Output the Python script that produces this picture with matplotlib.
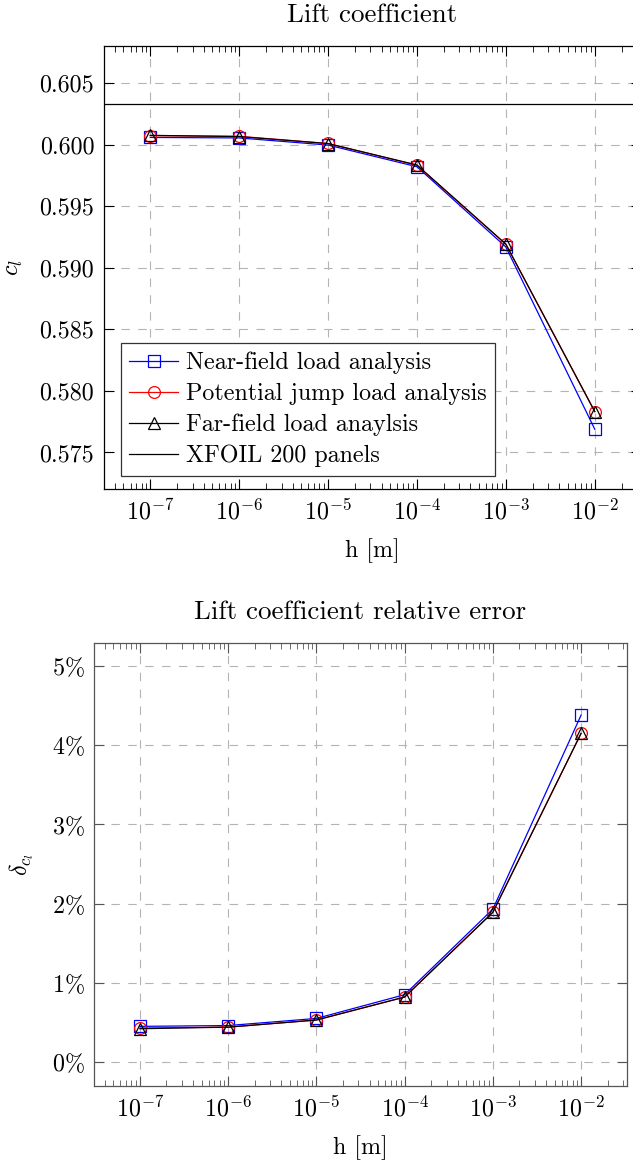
import matplotlib
matplotlib.use("Agg")
import matplotlib.pyplot as plt
from matplotlib.ticker import LogLocator, FixedLocator, FixedFormatter, NullFormatter

plt.rcParams['font.family'] = ['cmr10', 'DejaVu Serif']
plt.rcParams['mathtext.fontset'] = 'cm'
plt.rcParams['axes.formatter.use_mathtext'] = True
plt.rcParams['font.size'] = 17.3

# ---- data ----
h = [1e-7, 1e-6, 1e-5, 1e-4, 1e-3, 1e-2]
cl_near = [0.60060, 0.60056, 0.59998, 0.59822, 0.59170, 0.57689]
cl_jump = [0.60074, 0.60069, 0.60011, 0.59834, 0.59192, 0.57832]
cl_far = [0.60077, 0.60067, 0.60010, 0.59836, 0.59193, 0.57832]
cl_xfoil = 0.60332

err_near = [0.45, 0.46, 0.55, 0.85, 1.93, 4.38]
err_jump = [0.43, 0.44, 0.53, 0.82, 1.89, 4.15]
err_far = [0.42, 0.44, 0.53, 0.82, 1.89, 4.15]

labels = ["Near-field load analysis", "Potential jump load analysis",
          "Far-field load anaylsis", "XFOIL 200 panels"]
x_ticks = [1e-7, 1e-6, 1e-5, 1e-4, 1e-3, 1e-2]
x_ticklabels = [r'$10^{-7}$', r'$10^{-6}$', r'$10^{-5}$', r'$10^{-4}$', r'$10^{-3}$', r'$10^{-2}$']
cl_ticks = [0.575, 0.580, 0.585, 0.590, 0.595, 0.600, 0.605]
cl_ticklabels = ['0.575', '0.580', '0.585', '0.590', '0.595', '0.600', '0.605']
err_ticks = [0, 1, 2, 3, 4, 5]
err_ticklabels = [r'$0\%$', r'$1\%$', r'$2\%$', r'$3\%$', r'$4\%$', r'$5\%$']

W, H = 633, 1160
fig = plt.figure(figsize=(W / 100, H / 100), dpi=100)

def px_axes(l, r, t, b):
    return fig.add_axes([l / W, 1 - b / H, (r - l) / W, (b - t) / H])

ax1 = px_axes(104, 641, 46, 489)
ax2 = px_axes(94, 627, 643, 1086)

xlim = (10 ** -7.52, 10 ** -1.48)
grid_kw = dict(color='#b4b4b4', linestyle=(0, (7.6, 7.6)), linewidth=0.8)

def style(ax, spine_col):
    ax.set_xscale('log')
    ax.set_xlim(*xlim)
    ax.xaxis.set_major_locator(FixedLocator(x_ticks))
    ax.xaxis.set_major_formatter(FixedFormatter(x_ticklabels))
    ax.xaxis.set_minor_locator(LogLocator(base=10, subs=range(2, 10), numticks=20))
    ax.xaxis.set_minor_formatter(NullFormatter())
    ax.tick_params(which='both', direction='in', top=True, right=True,
                   color=spine_col)
    ax.tick_params(which='major', length=7, width=0.8, pad=7)
    ax.tick_params(which='minor', length=4.5, width=0.6)
    for s in ax.spines.values():
        s.set_color(spine_col)
        s.set_linewidth(0.9)
    ax.set_axisbelow(True)
    ax.grid(True, which='major', **grid_kw)
    ax.set_xlabel('h [m]')

mk = dict(markersize=8.5, markerfacecolor='none', markeredgewidth=0.9, linewidth=0.9)
title_size = 19.4

# ---- top chart ----
style(ax1, 'black')
ax1.plot(h, cl_near, color='blue', marker='s', label=labels[0], **mk)
ax1.plot(h, cl_jump, color='red', marker='o', label=labels[1], **mk)
ax1.plot(h, cl_far, color='black', marker='^', label=labels[2], **mk)
ax1.axhline(cl_xfoil, color='black', linewidth=0.9, label=labels[3])
ax1.set_ylim(0.57203, 0.60803)
ax1.yaxis.set_major_locator(FixedLocator(cl_ticks))
ax1.yaxis.set_major_formatter(FixedFormatter(cl_ticklabels))
ax1.set_ylabel(r'$c_l$')
ax1.yaxis.set_label_coords(-0.148, 0.5)
ax1.xaxis.set_label_coords(0.5, -0.111)
ax1.set_title('Lift coefficient', pad=17, fontsize=title_size)
leg = ax1.legend(loc='lower left', bbox_to_anchor=(0.031, 0.030), borderaxespad=0,
                 fancybox=False, edgecolor='#333333', framealpha=1,
                 handlelength=2.05, handletextpad=0.3, labelspacing=0.36,
                 borderpad=0.35, numpoints=1)
leg.get_frame().set_linewidth(0.9)

# ---- bottom chart ----
style(ax2, '#555555')
ax2.plot(h, err_near, color='blue', marker='s', **mk)
ax2.plot(h, err_jump, color='red', marker='o', **mk)
ax2.plot(h, err_far, color='black', marker='^', **mk)
ax2.set_ylim(-0.303, 5.29)
ax2.yaxis.set_major_locator(FixedLocator(err_ticks))
ax2.yaxis.set_major_formatter(FixedFormatter(err_ticklabels))
ax2.set_ylabel(r'$\delta_{c_l}$')
ax2.yaxis.set_label_coords(-0.108, 0.5)
ax2.xaxis.set_label_coords(0.5, -0.111)
ax2.set_title('Lift coefficient relative error', pad=17, fontsize=title_size)

fig.savefig('out.png', dpi=100)
